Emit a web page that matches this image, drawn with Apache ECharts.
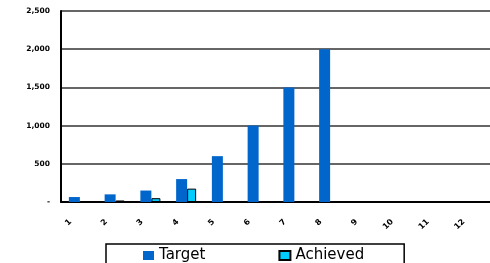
<!DOCTYPE html>
<html>
<head>
<meta charset="utf-8">
<script src="https://cdn.jsdelivr.net/npm/echarts@6/dist/echarts.min.js"></script>
<style>
  html, body { margin: 0; padding: 0; background: #fff; }
  #chart { width: 490px; height: 263px; }
</style>
</head>
<body>
<div id="chart"></div>
<script>
// months 1..12, null = no bar drawn
const categories = ['1', '2', '3', '4', '5', '6', '7', '8', '9', '10', '11', '12']
const targetValues = [65, 100, 150, 300, 600, 1000, 1500, 2000, null, null, null, null]
const achievedValues = [null, 20, 50, 175, null, null, null, null, null, null, null, null]

const chart = echarts.init(document.getElementById('chart'))

const option = {
  animation: false,
  grid: { left: 61, top: 11, bottom: 61, right: -4 },
  legend: {
    left: 106,
    top: 244,
    padding: [4, 40, 20, 37],
    itemGap: 73,
    itemWidth: 11,
    itemHeight: 9,
    icon: 'rect',
    borderColor: '#000',
    borderWidth: 1.5,
    textStyle: { fontFamily: 'DejaVu Sans', fontSize: 15, color: '#000' },
    data: ['Target', 'Achieved']
  },
  xAxis: {
    type: 'category',
    data: categories,
    axisLine: { lineStyle: { color: '#000', width: 2 } },
    axisTick: { length: 4, lineStyle: { color: '#000', width: 2 } },
    axisLabel: {
      rotate: 45,
      margin: 10,
      padding: [0, 12, 0, 0],
      fontFamily: 'DejaVu Sans',
      fontSize: 8,
      fontWeight: 'bold',
      color: '#000'
    }
  },
  yAxis: {
    type: 'value',
    min: 0,
    max: 2500,
    interval: 500,
    axisLine: { show: true, lineStyle: { color: '#000', width: 2 } },
    axisTick: { show: false },
    splitLine: { lineStyle: { color: '#333', width: 1.5 } },
    axisLabel: {
      margin: 11,
      fontFamily: 'DejaVu Sans',
      fontSize: 7.5,
      fontWeight: 'bold',
      color: '#000',
      formatter: (v) => (v === 0 ? '-' : v.toLocaleString('en-US'))
    }
  },
  series: [
    {
      name: 'Target',
      type: 'bar',
      data: targetValues,
      barWidth: 11,
      barGap: '0%',
      itemStyle: { color: '#0066CC' }
    },
    {
      name: 'Achieved',
      type: 'bar',
      data: achievedValues,
      barWidth: 9,
      itemStyle: { color: '#00CCFF', borderColor: '#000', borderWidth: 1 }
    }
  ]
}

chart.setOption(option)
</script>
</body>
</html>
